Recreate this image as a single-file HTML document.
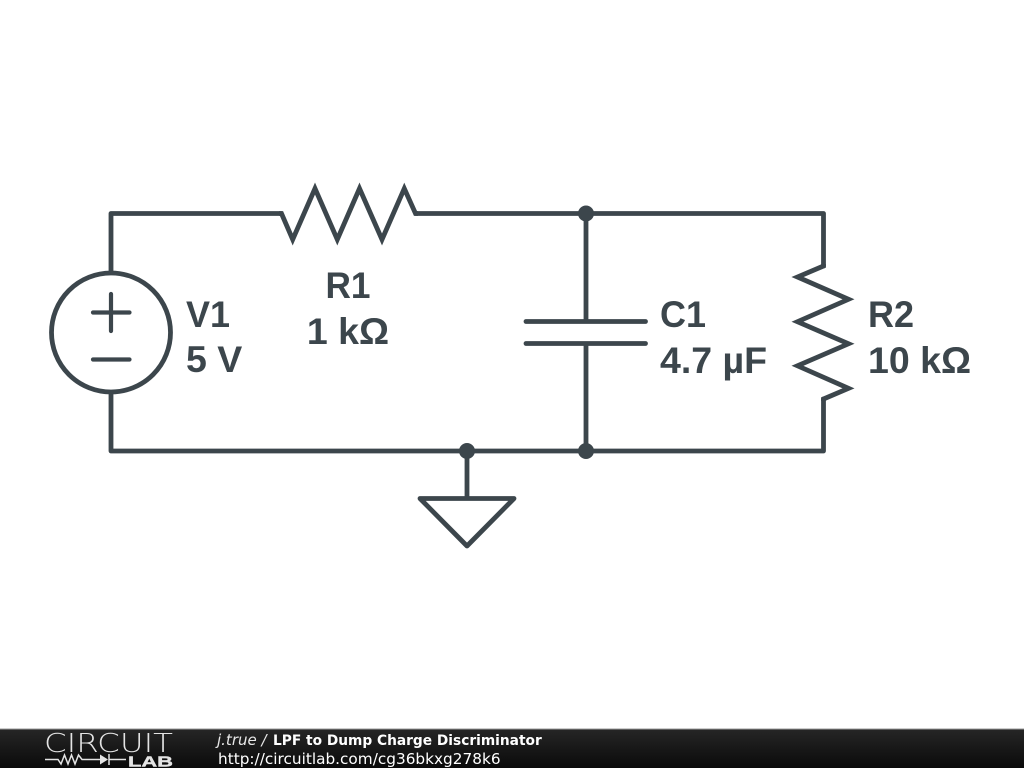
<!DOCTYPE html>
<html>
<head>
<meta charset="utf-8">
<style>
html,body{margin:0;padding:0;background:#fff;width:1024px;height:768px;overflow:hidden}
svg{display:block}
</style>
</head>
<body>
<svg xmlns="http://www.w3.org/2000/svg" width="1024" height="768" viewBox="0 0 1024 768">
<defs>
<linearGradient id="bar" x1="0" y1="0" x2="0" y2="1">
<stop offset="0" stop-color="#262626"/>
<stop offset="1" stop-color="#0a0a0a"/>
</linearGradient>
</defs>
<rect width="1024" height="768" fill="#fff"/>
<g fill="none" stroke="#3c464c" stroke-width="4.800" stroke-linejoin="round" stroke-linecap="round">
<path d="M111 272V213.500H281M416 213.500H823.500V266M823.500 399V451H111V393"/>
<circle cx="111" cy="332.500" r="59.500"/>
<path d="M93 312.500H129.500M111 294V331M93 359.500H129.500" stroke-width="4.200"/>
<path d="M586 213.500V321.500M526 321.500H645.500M526 343.500H645.500M586 343.500V451"/>
<path d="M467 451V498.500M420 498.500H514L467 546Z"/>
</g>
<g fill="none" stroke="#3c464c" stroke-width="4.800" stroke-linejoin="miter" stroke-miterlimit="10">
<path d="M279 213.500H281.500L292.700 239.500L315 188.500L337.300 239.500L359.500 188.500L382 239.500L404.300 188.500L415.500 213.500H418"/>
<path d="M823.500 264V266L797.500 277L848.500 299.300L797.500 321.700L848.500 343.800L797.500 365.800L848.500 388.300L823.500 399V401"/>
</g>
<circle cx="586" cy="213.500" r="8" fill="#3c464c"/>
<circle cx="586" cy="451" r="8" fill="#3c464c"/>
<circle cx="467" cy="451" r="8" fill="#3c464c"/>
<g font-family="'Liberation Sans',sans-serif" font-weight="bold" font-size="37.500" fill="#3c464c">
<text x="348" y="298" text-anchor="middle" textLength="45" lengthAdjust="spacingAndGlyphs">R1</text>
<text x="348" y="344" text-anchor="middle">1 kΩ</text>
<text x="186" y="327" textLength="44" lengthAdjust="spacingAndGlyphs">V1</text>
<text x="186" y="372">5 V</text>
<text x="660" y="327" textLength="46" lengthAdjust="spacingAndGlyphs">C1</text>
<text x="660" y="373">4.7 µF</text>
<text x="868" y="327" textLength="46" lengthAdjust="spacingAndGlyphs">R2</text>
<text x="868" y="373">10 kΩ</text>
</g>
<rect x="0" y="729" width="1024" height="39" fill="url(#bar)"/>
<rect x="0" y="728.500" width="1024" height="1" fill="#9a9a9a"/>
<text x="44" y="752" font-family="'DejaVu Sans',sans-serif" font-size="26" fill="#e4e4e4" textLength="129" lengthAdjust="spacingAndGlyphs" style="font-weight:200">CIRCUIT</text>
<path d="M45 759.500H58L61 764L64.500 755L68 764L71.500 755L75 764L78.500 755L82 759.500H100M109 759.500H126" fill="none" stroke="#e4e4e4" stroke-width="1.500"/>
<path d="M100 754.500V764.500L108 759.500Z" fill="#e4e4e4"/>
<path d="M109 754V765" fill="none" stroke="#e4e4e4" stroke-width="1.500"/>
<text x="128" y="766.500" font-family="'Liberation Sans',sans-serif" font-size="15" font-weight="bold" fill="#e4e4e4" stroke="#e4e4e4" stroke-width="0.400" textLength="45" lengthAdjust="spacingAndGlyphs">LAB</text>
<g font-family="'DejaVu Sans',sans-serif" fill="#fff">
<text x="217" y="745" font-size="15" font-style="italic" fill="#e8e8e8">j.true /</text>
<text x="273" y="745" font-size="13.750" font-weight="bold">LPF to Dump Charge Discriminator</text>
<text x="218" y="764" font-size="15.300">http://circuitlab.com/cg36bkxg278k6</text>
</g>
</svg>
</body>
</html>
